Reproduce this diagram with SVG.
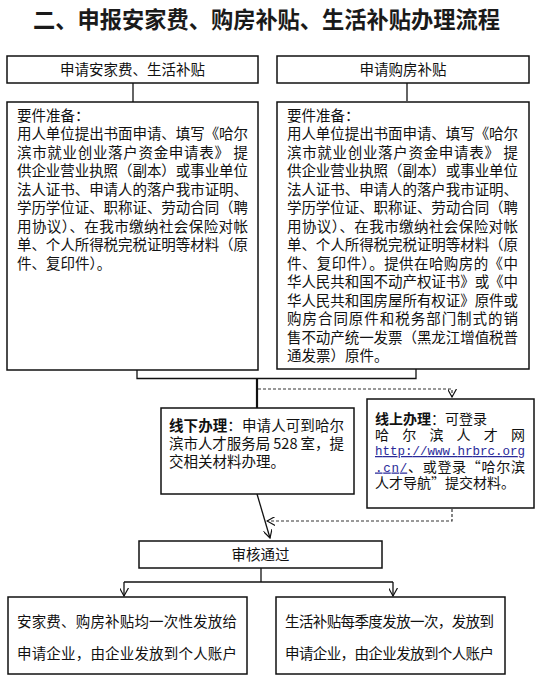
<svg xmlns="http://www.w3.org/2000/svg" width="542" height="689" viewBox="0 0 542 689">
<style>
text{font-family:"Noto Sans CJK SC","Noto Sans",sans-serif;fill:#111;}
.t{font-size:14.5px;}
.s{font-size:14px;}
.title{font-size:23px;font-weight:bold;fill:#1a1a1a;}
.box{fill:#fff;stroke:#111;stroke-width:1.5;}
.ln{fill:none;stroke:#111;stroke-width:1.3;}
.dash{fill:none;stroke:#333;stroke-width:1.2;stroke-dasharray:3 2;}
.b{font-weight:bold;}
.url{font-family:"Liberation Mono",monospace;font-size:12.5px;fill:#2a2a99;text-decoration:underline;}
</style>
<defs>
<marker id="ah" viewBox="0 0 10 10" refX="9" refY="5" markerWidth="9" markerHeight="9" markerUnits="userSpaceOnUse" orient="auto">
<path d="M0,0 L9,5 L0,10" fill="none" stroke="#111" stroke-width="1.3"/>
</marker>
</defs>
<rect width="542" height="689" fill="#fff"/>
<text class="title" x="33" y="28" textLength="467" lengthAdjust="spacingAndGlyphs">二、申报安家费、购房补贴、生活补贴办理流程</text>

<g id="connectors">
<line class="ln" x1="133" y1="83" x2="133" y2="102"/>
<line class="ln" x1="407" y1="83" x2="407" y2="101"/>
<polyline class="ln" points="137,370 137,378.5 416,378.5 416,369"/>
<line x1="257" y1="378" x2="257" y2="408" stroke="#111" stroke-width="2.2"/>
<polyline class="dash" points="258,389 452,389 452,397" marker-end="url(#ah)"/>
<line class="ln" x1="257" y1="494" x2="270" y2="538" marker-end="url(#ah)"/>
<polyline class="dash" points="452,509 452,521 267,521" marker-end="url(#ah)"/>
<line class="ln" x1="261" y1="568" x2="261" y2="582"/>
<line class="ln" x1="124" y1="582" x2="393" y2="582"/>
<line class="ln" x1="124" y1="582" x2="124" y2="596" marker-end="url(#ah)"/>
<line class="ln" x1="393" y1="582" x2="393" y2="596" marker-end="url(#ah)"/>
</g>

<g id="n1">
<rect class="box" x="7" y="56" width="251" height="27"/>
<text class="t" x="132.5" y="75" text-anchor="middle">申请安家费、生活补贴</text>
</g>
<g id="n2">
<rect class="box" x="277" y="56" width="252" height="27"/>
<text class="t" x="403" y="75" text-anchor="middle">申请购房补贴</text>
</g>

<g id="n3">
<rect class="box" x="7" y="102" width="251" height="268"/>
<text class="t" x="17" y="120.5">要件准备：</text>
<text class="t" x="17" y="139" textLength="231" lengthAdjust="spacing">用人单位提出书面申请、填写《哈尔</text>
<text class="t" x="17" y="157.5" textLength="231" lengthAdjust="spacing">滨市就业创业落户资金申请表》 提</text>
<text class="t" x="17" y="176" textLength="231" lengthAdjust="spacing">供企业营业执照（副本）或事业单位</text>
<text class="t" x="17" y="194.5" textLength="231" lengthAdjust="spacing">法人证书、申请人的落户我市证明、</text>
<text class="t" x="17" y="213" textLength="231" lengthAdjust="spacing">学历学位证、职称证、劳动合同（聘</text>
<text class="t" x="17" y="231.5" textLength="231" lengthAdjust="spacing">用协议）、在我市缴纳社会保险对帐</text>
<text class="t" x="17" y="250" textLength="231" lengthAdjust="spacing">单、个人所得税完税证明等材料（原</text>
<text class="t" x="17" y="268.5">件、复印件）。</text>
</g>

<g id="n4">
<rect class="box" x="277" y="102" width="252" height="267"/>
<text class="t" x="287" y="120.5">要件准备：</text>
<text class="t" x="287" y="139" textLength="231" lengthAdjust="spacing">用人单位提出书面申请、填写《哈尔</text>
<text class="t" x="287" y="157.5" textLength="231" lengthAdjust="spacing">滨市就业创业落户资金申请表》 提</text>
<text class="t" x="287" y="176" textLength="231" lengthAdjust="spacing">供企业营业执照（副本）或事业单位</text>
<text class="t" x="287" y="194.5" textLength="231" lengthAdjust="spacing">法人证书、申请人的落户我市证明、</text>
<text class="t" x="287" y="213" textLength="231" lengthAdjust="spacing">学历学位证、职称证、劳动合同（聘</text>
<text class="t" x="287" y="231.5" textLength="231" lengthAdjust="spacing">用协议）、在我市缴纳社会保险对帐</text>
<text class="t" x="287" y="250" textLength="231" lengthAdjust="spacing">单、个人所得税完税证明等材料（原</text>
<text class="t" x="287" y="268.5" textLength="231" lengthAdjust="spacing">件、复印件）。提供在哈购房的《中</text>
<text class="t" x="287" y="287" textLength="231" lengthAdjust="spacing">华人民共和国不动产权证书》或《中</text>
<text class="t" x="287" y="305.5" textLength="231" lengthAdjust="spacing">华人民共和国房屋所有权证》原件或</text>
<text class="t" x="287" y="324" textLength="231" lengthAdjust="spacing">购房合同原件和税务部门制式的销</text>
<text class="t" x="287" y="342.5" textLength="231" lengthAdjust="spacing">售不动产统一发票（黑龙江增值税普</text>
<text class="t" x="287" y="361">通发票）原件。</text>
</g>

<g id="n5">
<rect class="box" x="161" y="408" width="193" height="86"/>
<text class="t" x="169" y="430.5" textLength="175" lengthAdjust="spacing"><tspan class="b">线下办理</tspan>：申请人可到哈尔</text>
<text class="t" x="169" y="448.5" textLength="175" lengthAdjust="spacing">滨市人才服务局 528 室，提</text>
<text class="t" x="169" y="466.5">交相关材料办理。</text>
</g>

<g id="n6">
<rect class="box" x="367" y="399" width="167" height="109"/>
<text class="s" x="375" y="423.5"><tspan class="b">线上办理</tspan>：可登录</text>
<text class="s" x="375" y="439.5" textLength="150" lengthAdjust="spacing">哈 尔 滨 人 才 网</text>
<text class="url" x="375" y="455" textLength="150" lengthAdjust="spacing">http://www.hrbrc.org</text>
<text class="s" x="375" y="471.5" textLength="150" lengthAdjust="spacing"><tspan class="url">.cn/</tspan>、或登录“哈尔滨</text>
<text class="s" x="375" y="487.5">人才导航”提交材料。</text>
</g>

<g id="n7">
<rect class="box" x="139" y="541" width="243" height="27"/>
<text class="t" x="260.5" y="560" text-anchor="middle">审核通过</text>
</g>

<g id="n8">
<rect class="box" x="8" y="597" width="239" height="77"/>
<text class="t" x="17" y="627" textLength="220" lengthAdjust="spacing">安家费、购房补贴均一次性发放给</text>
<text class="t" x="17" y="659" textLength="220" lengthAdjust="spacing">申请企业，由企业发放到个人账户</text>
</g>
<g id="n9">
<rect class="box" x="276" y="597" width="229" height="77"/>
<text class="t" x="285" y="627" textLength="209" lengthAdjust="spacing">生活补贴每季度发放一次，发放到</text>
<text class="t" x="285" y="659" textLength="209" lengthAdjust="spacing">申请企业，由企业发放到个人账户</text>
</g>
</svg>
